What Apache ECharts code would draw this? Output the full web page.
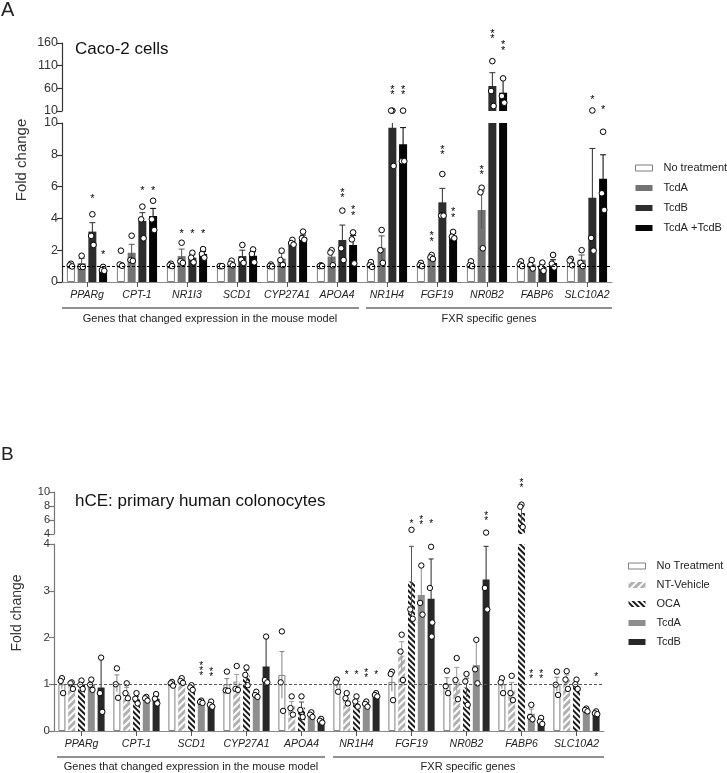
<!DOCTYPE html>
<html>
<head>
<meta charset="utf-8">
<script src="https://cdn.jsdelivr.net/npm/echarts@6/dist/echarts.min.js"></script>
<style>
  html, body { margin: 0; padding: 0; background: #fff; }
  #chart { width: 727px; height: 773px; }
</style>
</head>
<body>
<div id="chart"></div>
<script>
// ---------- Panel A: Caco-2 cells ----------
const genesA = ['PPARg', 'CPT-1', 'NR1I3', 'SCD1', 'CYP27A1', 'APOA4', 'NR1H4', 'FGF19', 'NR0B2', 'FABP6', 'SLC10A2'];
const treatA = ['No treatment', 'TcdA', 'TcdB', 'TcdA +TcdB'];

const meanA_NT    = [1.05, 1.10, 1.10, 1.00, 1.02, 1.02, 1.07, 1.05, 1.07, 1.07, 1.28];
const meanA_TcdA  = [1.18, 1.84, 1.63, 1.15, 1.47, 1.60, 2.15, 1.55, 4.53, 1.11, 1.40];
const meanA_TcdB  = [3.17, 3.84, 1.53, 1.63, 2.45, 2.64, 9.70, 5.01, 65.2, 0.96, 5.30];
const meanA_TcdAB = [0.80, 4.15, 1.76, 1.65, 2.80, 2.33, 8.66, 2.91, 50.4, 1.20, 6.50];

const semA_NT    = [0.05, 0.12, 0.05, 0.01, 0.03, 0.02, 0.09, 0.06, 0.09, 0.09, 0.12];
const semA_TcdA  = [0.30, 0.53, 0.44, 0.08, 0.35, 0.40, 0.75, 0.07, 1.19, 0.18, 0.30];
const semA_TcdB  = [0.56, 0.52, 0.18, 0.37, 0.10, 0.94, 1.25, 0.88, 29.3, 0.17, 3.10];
const semA_TcdAB = [0.12, 0.48, 0.15, 0.25, 0.15, 0.60, 1.05, 0.15, 31.6, 0.20, 1.50];

const dotsA_NT = [[1.15, 1.05, 0.98], [1.97, 1.10, 1.02], [1.15, 1.05, 1.0], [1.0, 1.0, 1.0], [1.10, 1.0, 0.98], [1.05, 1.0, 1.0],
  [1.25, 1.05, 0.95], [1.20, 1.05, 1.0], [1.30, 1.05, 1.0], [1.30, 1.10, 1.0], [1.45, 1.35, 1.05]];
const dotsA_TcdA = [[1.65, 0.95, 0.95], [2.91, 1.38, 1.33], [2.47, 1.30, 1.20], [1.34, 1.15, 1.05], [1.97, 1.38, 1.07], [2.0, 1.85, 1.05],
  [3.27, 2.0, 1.2], [1.70, 1.55, 1.45], [5.93, 5.64, 2.12], [1.38, 1.07, 0.85], [2.0, 1.2, 1.0]];
const dotsA_TcdB = [[4.26, 2.90, 2.33], [4.74, 3.94, 2.75], [1.84, 1.53, 1.24], [2.33, 1.40, 1.20], [2.65, 2.45, 2.35], [4.49, 2.12, 1.38],
  [10.8, 10.8, 7.3], [6.79, 4.17, 4.17], [120, 54, 21], [1.22, 0.92, 0.70], [11.2, 2.77, 1.97]];
const dotsA_TcdAB = [[0.95, 0.75, 0.70], [5.11, 3.94, 3.27], [2.07, 1.76, 1.53], [2.05, 1.76, 1.24], [3.17, 2.75, 2.65], [3.12, 2.68, 1.17],
  [10.8, 7.6, 7.6], [3.15, 2.85, 2.75], [82, 43, 28.3], [1.70, 1.15, 0.92], [9.45, 5.58, 4.53]];

// significance marks: [gene index, treatment index, number of stars, height]
const starsA = [
  [0, 2, 1, 5.4], [0, 3, 1, 1.84],
  [1, 2, 1, 5.9], [1, 3, 1, 5.9],
  [2, 1, 1, 3.17], [2, 2, 1, 3.17], [2, 3, 1, 3.17],
  [5, 2, 2, 5.6], [5, 3, 2, 4.5],
  [6, 2, 2, 56], [6, 3, 2, 56],
  [7, 1, 2, 2.85], [7, 2, 2, 8.3], [7, 3, 2, 4.36],
  [8, 1, 2, 7.04], [8, 2, 2, 180], [8, 3, 2, 155],
  [10, 2, 1, 40], [10, 3, 1, 17]
];

// ---------- Panel B: primary human colonocytes ----------
const genesB = ['PPARg', 'CPT-1', 'SCD1', 'CYP27A1', 'APOA4', 'NR1H4', 'FGF19', 'NR0B2', 'FABP6', 'SLC10A2'];
const treatB = ['No Treatment', 'NT-Vehicle', 'OCA', 'TcdA', 'TcdB'];

const meanB_NT   = [1.00, 1.02, 1.01, 1.00, 1.20, 1.00, 1.05, 1.00, 1.00, 1.00];
const meanB_NTV  = [0.99, 0.83, 1.08, 1.06, 0.53, 0.70, 1.61, 1.10, 0.88, 1.10];
const meanB_OCA  = [0.99, 0.68, 0.93, 1.18, 0.50, 0.63, 3.20, 0.93, 7.00, 1.00];
const meanB_TcdA = [0.99, 0.69, 0.62, 0.78, 0.35, 0.58, 2.91, 1.41, 0.37, 0.45];
const meanB_TcdB = [0.93, 0.69, 0.57, 1.38, 0.22, 0.77, 2.83, 3.24, 0.20, 0.40];

const semB_NT   = [0.10, 0.18, 0.02, 0.12, 0.50, 0.08, 0.20, 0.14, 0.10, 0.15];
const semB_NTV  = [0.05, 0.10, 0.03, 0.15, 0.10, 0.06, 0.30, 0.26, 0.16, 0.10];
const semB_OCA  = [0.05, 0.06, 0.05, 0.12, 0.12, 0.06, 0.75, 0.20, 1.10, 0.06];
const semB_TcdA = [0.06, 0.03, 0.02, 0.03, 0.04, 0.03, 0.63, 0.54, 0.10, 0.03];
const semB_TcdB = [0.64, 0.05, 0.03, 0.64, 0.03, 0.04, 0.85, 0.71, 0.04, 0.02];

const dotsB_NT = [[1.13, 1.07, 0.81], [1.34, 1.0, 0.71], [1.05, 1.02, 0.97], [1.27, 0.87, 0.86], [2.13, 1.04, 0.43],
  [1.10, 1.04, 0.84], [1.27, 1.22, 0.66], [1.29, 0.96, 0.81], [1.13, 1.04, 0.81], [1.27, 0.99, 0.77]];
const dotsB_NTV = [[1.04, 1.02, 0.90], [1.02, 0.81, 0.70], [1.13, 1.07, 1.03], [1.39, 0.90, 0.88], [0.74, 0.49, 0.35],
  [0.81, 0.70, 0.59], [2.06, 1.70, 1.09], [1.56, 1.09, 0.68], [1.18, 0.81, 0.66], [1.28, 1.10, 0.90]];
const dotsB_OCA = [[1.08, 0.99, 0.90], [0.81, 0.69, 0.59], [0.98, 0.93, 0.88], [1.36, 1.20, 0.98], [0.74, 0.45, 0.30],
  [0.74, 0.63, 0.52], [4.6, 2.6, 2.4], [1.22, 1.06, 0.56], [8.2, 7.9, 5.0], [1.10, 1.0, 0.90]];
const dotsB_TcdA = [[1.10, 0.99, 0.88], [0.73, 0.70, 0.65], [0.65, 0.62, 0.60], [0.84, 0.77, 0.73], [0.40, 0.35, 0.30],
  [0.63, 0.58, 0.52], [3.54, 2.74, 2.49], [1.95, 1.32, 1.02], [0.56, 0.30, 0.25], [0.48, 0.45, 0.42]];
const dotsB_TcdB = [[1.57, 0.81, 0.41], [0.79, 0.69, 0.59], [0.63, 0.56, 0.52], [2.02, 1.09, 1.04], [0.26, 0.22, 0.18],
  [0.81, 0.77, 0.74], [3.94, 3.06, 2.32, 2.02], [4.2, 3.06, 2.6], [0.28, 0.20, 0.15], [0.42, 0.38, 0.36]];

const starsB = [
  [2, 3, 3, 1.34], [2, 4, 2, 1.25],
  [5, 1, 1, 1.24], [5, 2, 1, 1.24], [5, 3, 2, 1.24], [5, 4, 1, 1.24],
  [6, 2, 1, 5.8], [6, 3, 2, 5.9], [6, 4, 1, 5.8],
  [7, 4, 2, 6.5],
  [8, 2, 2, 11.2], [8, 3, 2, 1.22], [8, 4, 2, 1.22],
  [9, 4, 1, 1.2]
];

const FONT = '"Liberation Sans", Arial, Helvetica, sans-serif';
const chart = echarts.init(document.getElementById('chart'), null, { renderer: 'canvas' });

// build the bars, error bars, dots and stars of one panel (upper + lower part of the broken axis)
function buildPanel(p) {
  const out = [];
  const n = p.names.length;
  const step = p.barW * (1 + p.gap);
  const off = j => (j - (n - 1) / 2) * step;
  const jit = [0, -1.2, 1.2, 0.6];
  const grids = [p.gLow, p.gUp];

  p.names.forEach((name, j) => {
    grids.forEach((g, k) => {
      const s = {
        type: 'bar', name: name, xAxisIndex: g, yAxisIndex: g,
        barWidth: p.barW, barGap: Math.round(p.gap * 100) + '%',
        itemStyle: p.styles[j], silent: true,
        data: p.means[j].map(v => (k === 1 && v <= p.lowMax) ? '-' : v)
      };
      if (k === 0 && j === 0) {
        s.markLine = {
          silent: true, symbol: 'none', label: { show: false }, z: 5,
          lineStyle: { type: p.dash, color: p.dashColor, width: 1.2 },
          data: [{ yAxis: 1 }]
        };
      }
      out.push(s);
    });
  });

  grids.forEach((g, k) => {
    const errData = [];
    p.means.forEach((arr, j) => arr.forEach((m, c) => errData.push([c, m, p.sems[j][c], j])));
    out.push({
      type: 'custom', xAxisIndex: g, yAxisIndex: g, silent: true, z: 3,
      data: errData, encode: { x: 0, y: 1 },
      renderItem(params, api) {
        const cs = params.coordSys;
        const c = api.value(0), m = api.value(1), s = api.value(2), j = api.value(3);
        const x = api.coord([c, m])[0] + off(j);
        let y1 = api.coord([c, m + s])[1];
        let y2 = api.coord([c, m - s])[1];
        const top = cs.y, bot = cs.y + cs.height;
        const capIn = y1 >= top - 0.5 && y1 <= bot;
        y1 = Math.max(y1, top);
        y2 = Math.min(y2, bot);
        const st = { stroke: p.errColors[j], lineWidth: 1 };
        const kids = [];
        if (y2 > y1) kids.push({ type: 'line', shape: { x1: x, y1: y1, x2: x, y2: y2 }, style: st });
        if (capIn) kids.push({ type: 'line', shape: { x1: x - p.capW, y1: y1, x2: x + p.capW, y2: y1 }, style: st });
        return { type: 'group', children: kids };
      }
    });

    const dotData = [];
    p.dots.forEach((arr, j) => arr.forEach((vals, c) => vals.forEach((v, i) => {
      if ((k === 0) === (v <= p.lowMax)) dotData.push([c, v, j, i]);
    })));
    out.push({
      type: 'custom', xAxisIndex: g, yAxisIndex: g, silent: true, z: 4,
      data: dotData, encode: { x: 0, y: 1 },
      renderItem(params, api) {
        const pt = api.coord([api.value(0), api.value(1)]);
        return {
          type: 'circle',
          shape: { cx: pt[0] + off(api.value(2)) + jit[api.value(3)], cy: pt[1], r: p.dotR },
          style: { fill: '#fff', stroke: '#000', lineWidth: 1 }
        };
      }
    });

    const starData = p.stars.filter(s => (k === 0) === (s[3] <= p.lowMax)).map(s => [s[0], s[3], s[1], s[2]]);
    out.push({
      type: 'custom', xAxisIndex: g, yAxisIndex: g, silent: true, z: 4,
      data: starData, encode: { x: 0, y: 1 },
      renderItem(params, api) {
        const pt = api.coord([api.value(0), api.value(1)]);
        const x = pt[0] + off(api.value(2));
        const cnt = api.value(3);
        const kids = [];
        for (let i = 0; i < cnt; i++) {
          kids.push({
            type: 'text', x: x, y: pt[1] + (i - (cnt - 1) / 2) * p.starStep + p.starShift,
            style: { text: '*', fill: '#000', font: p.starFont, align: 'center', verticalAlign: 'middle' }
          });
        }
        return { type: 'group', children: kids };
      }
    });
  });
  return out;
}

const seriesA = buildPanel({
  gLow: 1, gUp: 0, lowMax: 10, names: treatA,
  means: [meanA_NT, meanA_TcdA, meanA_TcdB, meanA_TcdAB],
  sems: [semA_NT, semA_TcdA, semA_TcdB, semA_TcdAB],
  dots: [dotsA_NT, dotsA_TcdA, dotsA_TcdB, dotsA_TcdAB],
  stars: starsA,
  styles: [
    { color: '#ffffff', borderColor: '#7f7f7f', borderWidth: 1 },
    { color: '#737373' },
    { color: '#2d2d2d' },
    { color: '#050505' }
  ],
  errColors: ['#7f7f7f', '#555555', '#2d2d2d', '#000000'],
  barW: 8, gap: 0.34, capW: 3, dotR: 2.8,
  dash: [3, 2], dashColor: '#000',
  starStep: 5.5, starShift: 2.5, starFont: '11px ' + FONT
});

const seriesB = buildPanel({
  gLow: 3, gUp: 2, lowMax: 4, names: treatB,
  means: [meanB_NT, meanB_NTV, meanB_OCA, meanB_TcdA, meanB_TcdB],
  sems: [semB_NT, semB_NTV, semB_OCA, semB_TcdA, semB_TcdB],
  dots: [dotsB_NT, dotsB_NTV, dotsB_OCA, dotsB_TcdA, dotsB_TcdB],
  stars: starsB,
  styles: [
    { color: '#ffffff', borderColor: '#808080', borderWidth: 1 },
    { color: '#b0b0b0', decal: { symbol: 'rect', symbolSize: 1, color: '#ffffff', dashArrayX: [1, 0], dashArrayY: [2, 2.5], rotation: -Math.PI / 4 } },
    { color: '#ffffff', decal: { symbol: 'rect', symbolSize: 1, color: '#1a1a1a', dashArrayX: [1, 0], dashArrayY: [1.8, 1.6], rotation: Math.PI / 4 } },
    { color: '#8e8e8e' },
    { color: '#282828' }
  ],
  errColors: ['#808080', '#9a9a9a', '#555555', '#8e8e8e', '#282828'],
  barW: 7, gap: 0.4, capW: 2.5, dotR: 2.7,
  dash: [3, 2], dashColor: '#555',
  starStep: 5, starShift: 2.5, starFont: '10px ' + FONT
});

function valueAxis(grid, min, max, interval, color, fs) {
  return {
    type: 'value', gridIndex: grid, min: min, max: max, interval: interval,
    axisLine: { show: true, lineStyle: { color: color, width: 1.2 } },
    axisTick: { show: true, length: 5, lineStyle: { color: color, width: 1.2 } },
    axisLabel: { fontSize: fs, color: '#333', margin: 4 },
    splitLine: { show: false }
  };
}
function catAxis(grid, data, show) {
  return {
    type: 'category', gridIndex: grid, data: data,
    axisLine: { show: show, lineStyle: { color: '#8a8a8a', width: 1.2 } },
    axisTick: { show: show, alignWithLabel: true, length: 5, lineStyle: { color: '#555' } },
    axisLabel: { show: show, interval: 0, fontStyle: 'italic', fontSize: 10.5, color: '#222', margin: 8 },
    splitLine: { show: false }
  };
}

const option = {
  animation: false,
  backgroundColor: '#fff',
  textStyle: { fontFamily: FONT },
  title: [
    { text: 'A', left: 1, top: 0, padding: 0, textStyle: { fontSize: 20, fontWeight: 'normal', color: '#222' } },
    { text: 'Caco-2 cells', left: 75, top: 41, padding: 0, textStyle: { fontSize: 17, fontWeight: 'normal', color: '#111' } },
    { text: 'B', left: 1, top: 445, padding: 0, textStyle: { fontSize: 19, fontWeight: 'normal', color: '#222' } },
    { text: 'hCE: primary human colonocytes', left: 75, top: 493, padding: 0, textStyle: { fontSize: 17, fontWeight: 'normal', color: '#111' } }
  ],
  legend: [
    {
      data: [{ name: 'No treatment', itemStyle: { color: '#fff', borderColor: '#7f7f7f', borderWidth: 1 } }, 'TcdA', 'TcdB', 'TcdA +TcdB'],
      orient: 'vertical', left: 635, top: 162.5, padding: 0, icon: 'rect', itemWidth: 17, itemHeight: 6, itemGap: 9,
      selectedMode: false, textStyle: { fontSize: 11, color: '#222', padding: [0, 0, 0, 6] }
    },
    {
      data: [
        { name: 'No Treatment', itemStyle: { color: '#fff', borderColor: '#808080', borderWidth: 1 } },
        'NT-Vehicle', 'OCA',
        { name: 'TcdA', itemStyle: { color: '#8e8e8e' } },
        { name: 'TcdB', itemStyle: { color: '#282828' } }
      ],
      orient: 'vertical', left: 628, top: 560.5, padding: 0, icon: 'rect', itemWidth: 17, itemHeight: 6, itemGap: 8,
      selectedMode: false, textStyle: { fontSize: 11, color: '#222', padding: [0, 0, 0, 6] }
    }
  ],
  grid: [
    { left: 62, width: 550, top: 43, height: 68, outerBoundsMode: 'none' },
    { left: 62, width: 550, top: 123, height: 159, outerBoundsMode: 'none' },
    { left: 54, width: 550, top: 492, height: 42, outerBoundsMode: 'none' },
    { left: 54, width: 550, top: 544, height: 187, outerBoundsMode: 'none' }
  ],
  xAxis: [catAxis(0, genesA, false), catAxis(1, genesA, true), catAxis(2, genesB, false), catAxis(3, genesB, true)],
  yAxis: [
    valueAxis(0, 10, 160, 50, '#333', 12.5),
    valueAxis(1, 0, 10, 2, '#333', 12.5),
    valueAxis(2, 4, 10, 2, '#777', 11),
    valueAxis(3, 0, 4, 1, '#777', 11.5)
  ],
  graphic: [
    { type: 'text', x: 22, y: 160, rotation: Math.PI / 2, style: { text: 'Fold change', font: '15px ' + FONT, fill: '#333', align: 'center', verticalAlign: 'middle' } },
    { type: 'text', x: 17, y: 613, rotation: Math.PI / 2, style: { text: 'Fold change', font: '14px ' + FONT, fill: '#333', align: 'center', verticalAlign: 'middle' } },
    { type: 'line', shape: { x1: 62, y1: 308, x2: 359, y2: 308 }, style: { stroke: '#222', lineWidth: 1 } },
    { type: 'line', shape: { x1: 366, y1: 308, x2: 612, y2: 308 }, style: { stroke: '#222', lineWidth: 1 } },
    { type: 'text', x: 210, y: 319, style: { text: 'Genes that changed expression in the mouse model', font: '11px ' + FONT, fill: '#222', align: 'center', verticalAlign: 'middle' } },
    { type: 'text', x: 489, y: 319, style: { text: 'FXR specific genes', font: '11px ' + FONT, fill: '#222', align: 'center', verticalAlign: 'middle' } },
    { type: 'line', shape: { x1: 57, y1: 757, x2: 325, y2: 757 }, style: { stroke: '#222', lineWidth: 1 } },
    { type: 'line', shape: { x1: 333, y1: 757, x2: 604, y2: 757 }, style: { stroke: '#222', lineWidth: 1 } },
    { type: 'text', x: 191, y: 767, style: { text: 'Genes that changed expression in the mouse model', font: '11px ' + FONT, fill: '#222', align: 'center', verticalAlign: 'middle' } },
    { type: 'text', x: 468, y: 767, style: { text: 'FXR specific genes', font: '11px ' + FONT, fill: '#222', align: 'center', verticalAlign: 'middle' } }
  ],
  series: seriesA.concat(seriesB)
};

chart.setOption(option);
</script>
</body>
</html>
